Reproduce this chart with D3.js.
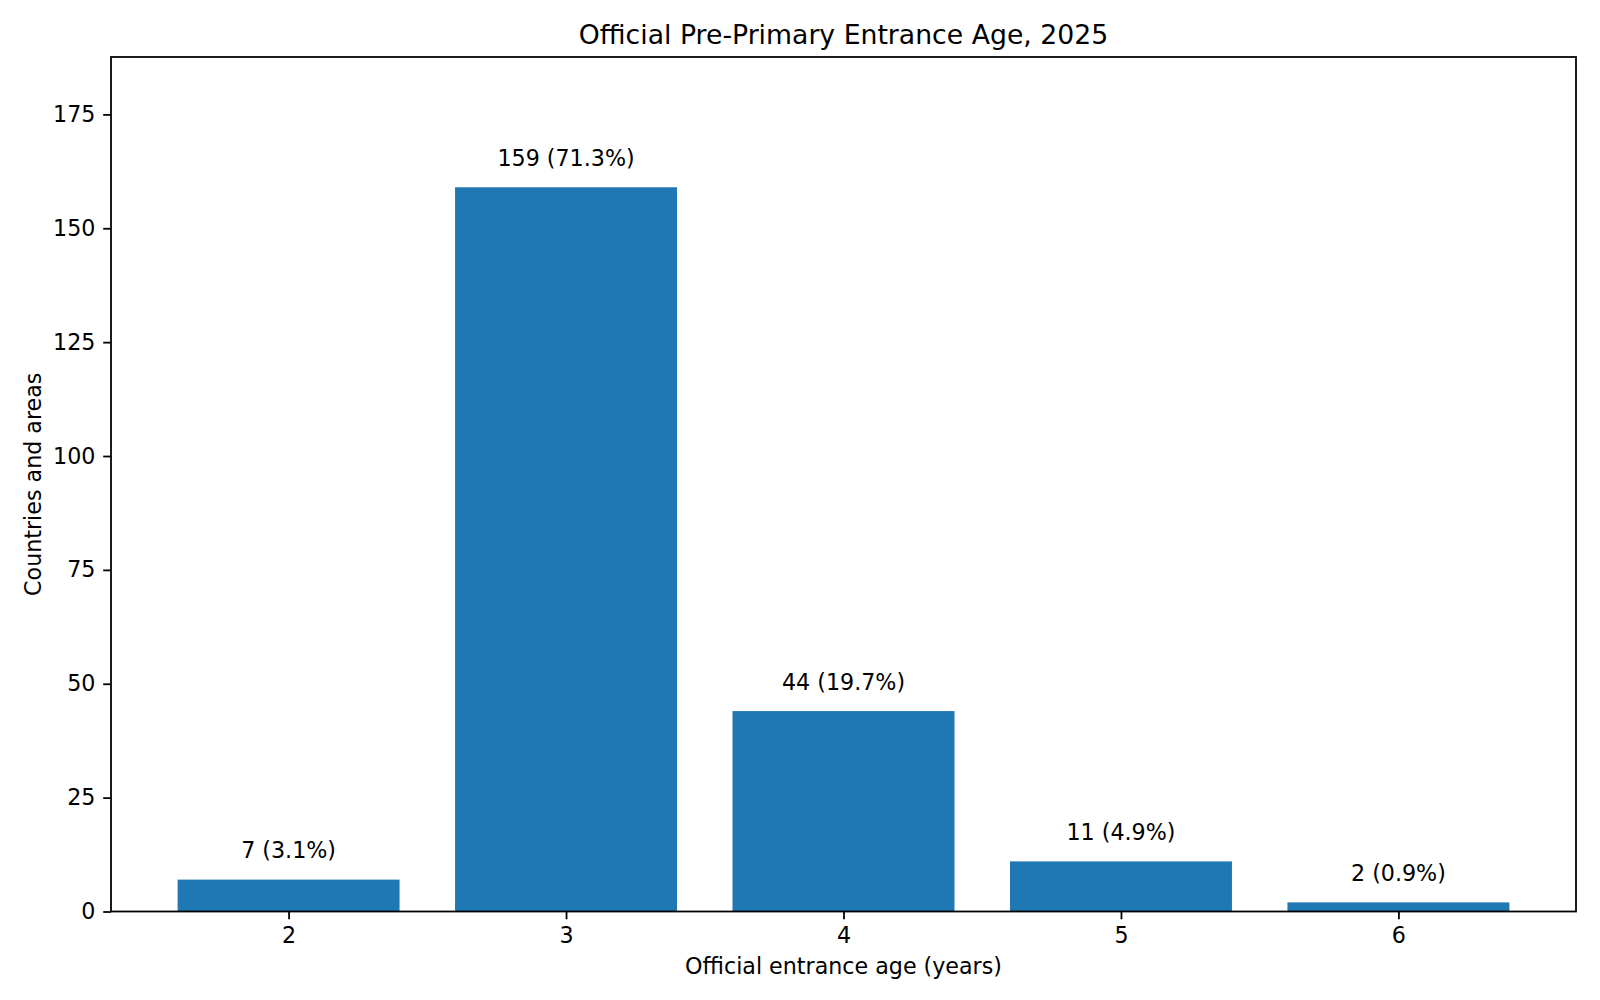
<!DOCTYPE html>
<html>
<head>
<meta charset="utf-8">
<script src="https://cdn.jsdelivr.net/npm/d3@7"></script>
<style>
  body { margin: 0; background: #fff; }
  text { font-family: "DejaVu Sans", sans-serif; fill: #000; }
</style>
</head>
<body>
<div id="chart"></div>
<script>
// chart data
var ages = [2, 3, 4, 5, 6];
var counts = [7, 159, 44, 11, 2];
var yTicks = [0, 25, 50, 75, 100, 125, 150, 175];

var svgWidth = 1600;
var svgHeight = 1000;

// plot area, in pixels
var margin = { top: 57, right: 24, bottom: 88.5, left: 111 };
var width = svgWidth - margin.left - margin.right;
var height = svgHeight - margin.top - margin.bottom;

var fontSize = 22.2;
var tickLen = 7.8;

var svg = d3.select("#chart")
  .append("svg")
  .attr("width", svgWidth)
  .attr("height", svgHeight);

var chartGroup = svg.append("g")
  .attr("transform", `translate(${margin.left}, ${margin.top})`);

var total = d3.sum(counts);
var data = ages.map((a, i) => ({ age: a, count: counts[i] }));

// scales (x padded like a bar plot with 0.8 wide bars)
var xScale = d3.scaleLinear()
  .domain([1.36, 6.64])
  .range([0, width]);

var yScale = d3.scaleLinear()
  .domain([0, 187.6])
  .range([height, 0]);

var barW = xScale(2.4) - xScale(1.6);

// bars
chartGroup.selectAll("rect.bar")
  .data(data)
  .enter()
  .append("rect")
  .attr("class", "bar")
  .attr("x", d => xScale(d.age) - barW / 2)
  .attr("y", d => yScale(d.count))
  .attr("width", barW)
  .attr("height", d => height - yScale(d.count))
  .attr("fill", "#1f77b4");

// value labels
chartGroup.selectAll("text.val")
  .data(data)
  .enter()
  .append("text")
  .attr("class", "val")
  .attr("x", d => xScale(d.age))
  .attr("y", d => yScale(d.count) - 21.5)
  .attr("text-anchor", "middle")
  .attr("font-size", fontSize)
  .text(d => `${d.count} (${(d.count / total * 100).toFixed(1)}%)`);

// axes
var bottomAxis = d3.axisBottom(xScale)
  .tickValues(ages)
  .tickFormat(d3.format("d"))
  .tickSize(tickLen)
  .tickPadding(tickLen);

var leftAxis = d3.axisLeft(yScale)
  .tickValues(yTicks)
  .tickSize(tickLen)
  .tickPadding(tickLen);

var xAxis = chartGroup.append("g")
  .attr("transform", `translate(0, ${height})`)
  .call(bottomAxis);

var yAxis = chartGroup.append("g")
  .call(leftAxis);

[xAxis, yAxis].forEach(function(ax) {
  ax.select(".domain").remove();
  ax.selectAll("line").attr("stroke", "#000").attr("stroke-width", 1.78);
  ax.selectAll("text")
    .attr("font-size", fontSize)
    .attr("font-family", "DejaVu Sans, sans-serif")
    .attr("fill", "#000");
});

// frame
chartGroup.append("rect")
  .attr("x", 0)
  .attr("y", 0)
  .attr("width", width)
  .attr("height", height)
  .attr("fill", "none")
  .attr("stroke", "#000")
  .attr("stroke-width", 1.78);

// title
chartGroup.append("text")
  .attr("x", width / 2)
  .attr("y", -13.3)
  .attr("text-anchor", "middle")
  .attr("font-size", 26.7)
  .text("Official Pre-Primary Entrance Age, 2025");

// axis labels
chartGroup.append("text")
  .attr("x", width / 2)
  .attr("y", height + 62)
  .attr("text-anchor", "middle")
  .attr("font-size", fontSize)
  .text("Official entrance age (years)");

chartGroup.append("text")
  .attr("transform", "rotate(-90)")
  .attr("x", -height / 2)
  .attr("y", -70)
  .attr("text-anchor", "middle")
  .attr("font-size", fontSize)
  .text("Countries and areas");
</script>
</body>
</html>
